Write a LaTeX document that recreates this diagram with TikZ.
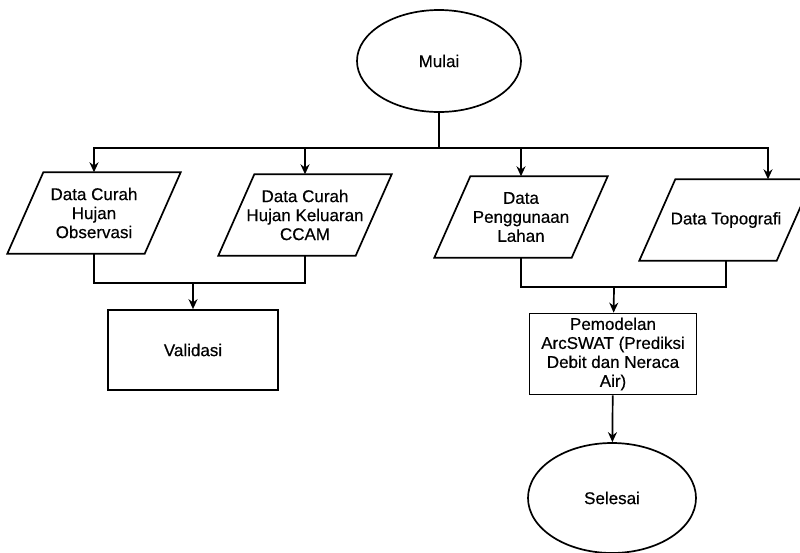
\documentclass[tikz,border=0pt]{standalone}
\usepackage{fontspec}
\setmainfont{Liberation Sans}
\newfontfamily\flowfam[FakeBold=0.4]{Liberation Sans}
\usepackage{tikz}
\usetikzlibrary{arrows.meta,calc,positioning,shapes.geometric}

\newcommand{\flowfont}{\flowfam\fontsize{17}{19}\selectfont}
\tikzset{
	flow/.style={line width=1.7pt},
	arr/.style={flow,-{Stealth[length=10pt,width=9pt]}},
	term/.style={ellipse,draw,line width=1.7pt,minimum width=164pt,minimum height=102pt,font=\flowfont},
	datain/.style={rectangle,minimum width=137pt,minimum height=81pt,inner sep=0pt,align=center,font=\flowfont},
	proc/.style={rectangle,draw,line width=1.7pt,align=center,font=\flowfont}
}

\begin{document}
\begin{tikzpicture}[x=1pt,y=-1pt]
	\clip (0,0) rectangle (800,552);
	\fill[white] (0,0) rectangle (800,552);

	\node[term] (mulai) at (439,61) {Mulai};
	\node[datain] (obs) at (94,213) {Data Curah\\Hujan\\Observasi};
	\node[datain] (ccam) at (305,215) {Data Curah\\Hujan Keluaran\\CCAM};
	\node[datain] (lahan) at (521,217) {Data\\Penggunaan\\Lahan};
	\node[datain] (topo) at (726,220) {Data Topografi};
	\node[proc,minimum width=170pt,minimum height=80pt] (valid) at (193,350) {Validasi};
	\node[proc,minimum width=167pt,minimum height=81pt,inner sep=1pt] (arc) at (613,354) {Pemodelan\\ArcSWAT (Prediksi\\Debit dan Neraca\\Air)};
	\node[term,minimum width=168pt,minimum height=110pt] (selesai) at (612,498) {Selesai};

	\foreach \n in {obs,ccam,lahan,topo}
		\draw[flow] ($(\n.south west)+(-18,0)$) -- ($(\n.south east)+(-18,0)$) -- ($(\n.north east)+(18,0)$) -- ($(\n.north west)+(18,0)$) -- cycle;

	\coordinate (split) at (439,148);
	\coordinate (joinL) at (193,283);
	\coordinate (joinR) at (614,287);

	\draw[flow] (mulai) -- (split);
	\draw[arr] (split) -| (obs);
	\draw[arr] (split) -| (ccam);
	\draw[arr] (split) -| (lahan);
	\draw[arr] (split) -| ([xshift=42pt]topo.north);

	\draw[flow] (obs) |- (joinL) -| (ccam);
	\draw[arr] (joinL) -- (valid);
	\draw[flow] (lahan) |- (joinR) -| (topo);
	\draw[arr] (joinR) -- (arc);
	\draw[arr] (arc) -- (selesai);
\end{tikzpicture}
\end{document}
